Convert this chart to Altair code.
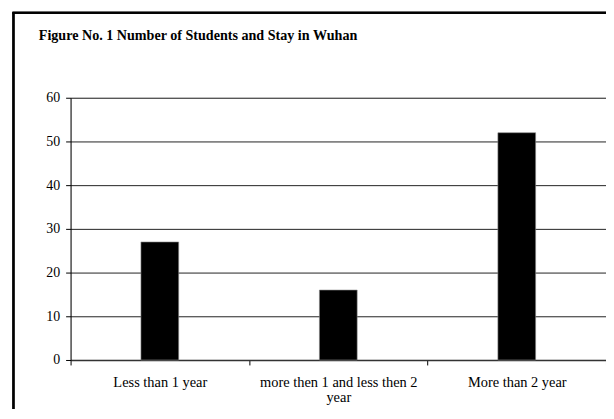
import altair as alt
import pandas as pd

categories = ["Less than 1 year", "more then 1 and less then 2 year", "More than 2 year"]
students = [27, 16, 52]
y_ticks = [0, 10, 20, 30, 40, 50, 60]
title_text = "Figure No. 1 Number of Students and Stay in Wuhan"

df = pd.DataFrame({"stay": categories, "students": students})

FONT = "Liberation Serif"

bars = alt.Chart(df).mark_bar(size=38, color="black", stroke="#888888", strokeWidth=0.6).encode(
    x=alt.X(
        "stay:N",
        sort=categories,
        scale=alt.Scale(paddingInner=0, paddingOuter=0),
        axis=alt.Axis(
            title=None,
            labelAngle=0,
            tickBand="extent",
            tickSize=5,
            tickColor="black",
            domainColor="#333333",
            domainWidth=1.5,
            labelFont=FONT,
            labelFontSize=14.5,
            labelColor="black",
            labelPadding=11,
            labelLimit=300,
            labelLineHeight=15,
            labelExpr="datum.value == 'more then 1 and less then 2 year' ? ['more then 1 and less then 2', 'year'] : datum.label",
            grid=False,
        ),
    ),
    y=alt.Y(
        "students:Q",
        scale=alt.Scale(domain=[0, 60], nice=False),
        axis=alt.Axis(
            title=None,
            values=y_ticks,
            tickSize=5,
            tickColor="black",
            domainColor="black",
            labelFont=FONT,
            labelFontSize=14,
            labelColor="black",
            labelPadding=6,
            grid=True,
            gridColor="#222222",
            gridWidth=1,
        ),
    ),
)

frame_left = alt.Chart(df).mark_rule(color="black", strokeWidth=2).encode(
    x=alt.value(-57.5), y=alt.value(-85.5), y2=alt.value(330)
)
frame_top = alt.Chart(df).mark_rule(color="black", strokeWidth=2).encode(
    x=alt.value(-58.5), x2=alt.value(600), y=alt.value(-85.5)
)

title_mark = alt.Chart(pd.DataFrame({"t": [title_text]})).mark_text(
    align="left", baseline="alphabetic", font=FONT, fontSize=14.2, fontWeight="bold", color="black"
).encode(
    text="t:N", x=alt.value(-32), y=alt.value(-58.5)
)

chart = alt.layer(bars, frame_left, frame_top, title_mark).properties(
    width=539,
    height=264,
    autosize=alt.AutoSizeParams(type="none"),
    padding={"left": 63, "top": 89, "right": 0, "bottom": 48},
).configure_view(stroke=None).configure(background="white")

chart.save("out.html", embed_options={"renderer": "svg", "actions": False})
